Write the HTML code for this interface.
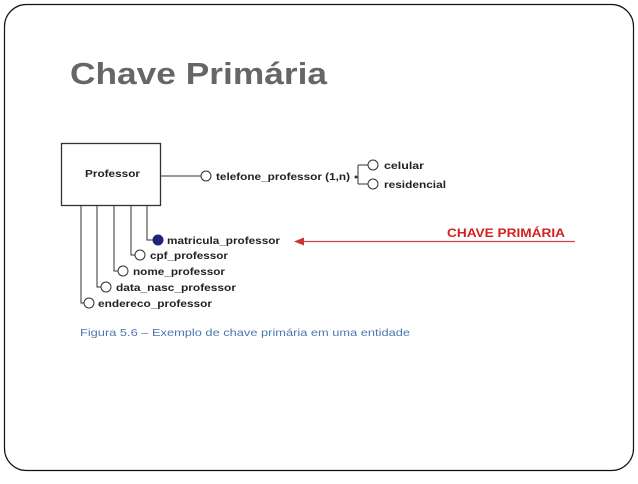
<!DOCTYPE html>
<html><head><meta charset="utf-8"><style>
html,body{margin:0;padding:0;background:#fff;}
</style></head><body>
<svg width="638" height="479" xmlns="http://www.w3.org/2000/svg" font-family="Liberation Sans, sans-serif">
<rect x="4.5" y="4.5" width="629" height="466" rx="22" fill="#fff" stroke="#111" stroke-width="1.2"/>
<text x="70" y="84" font-size="31" font-weight="bold" fill="#666" textLength="257" lengthAdjust="spacingAndGlyphs">Chave Primária</text>
<g stroke="#333" stroke-width="1" fill="none">
<rect x="61.5" y="143.5" width="99" height="62" stroke-width="1.3"/>
<line x1="161" y1="176" x2="201" y2="176"/>
<circle cx="206" cy="176" r="5"/>
<line x1="358" y1="165" x2="358" y2="184"/>
<line x1="358" y1="165" x2="368" y2="165"/>
<line x1="358" y1="184" x2="368" y2="184"/>
<circle cx="373" cy="165" r="5"/>
<circle cx="373" cy="184" r="5"/>
<path d="M147 206V240H153"/>
<path d="M131 206V255H135"/>
<path d="M114 206V271H118"/>
<path d="M97 206V287H101"/>
<path d="M81 206V303H84"/>
<circle cx="140" cy="255" r="5"/>
<circle cx="123" cy="271" r="5"/>
<circle cx="106" cy="287" r="5"/>
<circle cx="89" cy="303" r="5"/>
</g>
<circle cx="158" cy="240" r="5.5" fill="#22227a"/>
<circle cx="356" cy="177" r="1.5" fill="#333"/>
<g font-size="10.5" font-weight="bold" fill="#222">
<text x="85" y="177" textLength="55" lengthAdjust="spacingAndGlyphs">Professor</text>
<text x="216" y="180" textLength="134" lengthAdjust="spacingAndGlyphs">telefone_professor (1,n)</text>
<text x="384" y="169" textLength="40" lengthAdjust="spacingAndGlyphs">celular</text>
<text x="384" y="188" textLength="62" lengthAdjust="spacingAndGlyphs">residencial</text>
<text x="167" y="244" textLength="113" lengthAdjust="spacingAndGlyphs">matricula_professor</text>
<text x="150" y="259" textLength="78" lengthAdjust="spacingAndGlyphs">cpf_professor</text>
<text x="133" y="275" textLength="92" lengthAdjust="spacingAndGlyphs">nome_professor</text>
<text x="116" y="291" textLength="120" lengthAdjust="spacingAndGlyphs">data_nasc_professor</text>
<text x="98" y="307" textLength="114" lengthAdjust="spacingAndGlyphs">endereco_professor</text>
</g>
<line x1="575" y1="241.5" x2="302" y2="241.5" stroke="#c44" stroke-width="1.3"/>
<polygon points="294,241.5 304,237.5 304,245.5" fill="#c33"/>
<text x="447" y="237" font-size="12" font-weight="bold" fill="#d42020" textLength="118" lengthAdjust="spacingAndGlyphs">CHAVE PRIMÁRIA</text>
<text x="80" y="336" font-size="10.5" fill="#4a78b0" textLength="330" lengthAdjust="spacingAndGlyphs">Figura 5.6 – Exemplo de chave primária em uma entidade</text>
</svg>
</body></html>
